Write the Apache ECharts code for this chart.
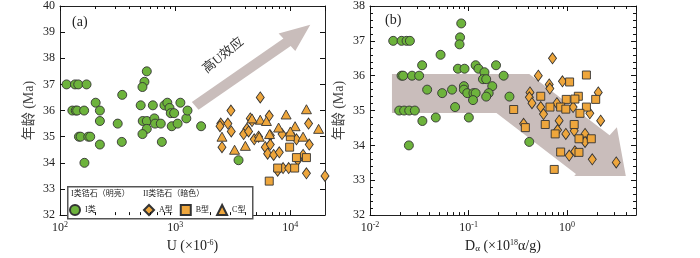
<!DOCTYPE html>
<html>
<head>
<meta charset="utf-8">
<script src="https://cdn.jsdelivr.net/npm/echarts@6/dist/echarts.min.js"></script>
<style>
html, body { margin: 0; padding: 0; background: #fff; }
#chart { width: 700px; height: 258px; }
</style>
</head>
<body>
<div id="chart"></div>
<script>
// (a) U 含量 - 年龄
var aI = [
    [114, 37], [135, 37], [144, 37], [170, 37],
    [128, 36], [137, 36], [141, 36], [162, 36],
    [204, 36.3], [222, 36], [222, 35.6],
    [146, 35], [151, 35], [176, 35], [183, 35],
    [222, 34.7], [163, 34],
    [347, 36.6], [317, 35.5], [344, 34.8],
    [567, 37.5], [541, 37.1], [520, 36.9],
    [502, 36.2], [640, 36.2], [523, 35.6], [567, 35.6], [660, 35.7], [669, 35.5], [750, 35.5],
    [567, 35.3], [520, 35.1], [766, 34.8],
    [807, 36.2], [855, 36.3], [893, 36.1], [916, 35.9], [980, 35.9], [934, 35.4], [1050, 35.5],
    [1110, 36.3], [1250, 35.7], [1280, 36], [1680, 35.4], [3550, 34.1]
];
var aA = [
    [5480, 36.5], [3050, 36.0], [6560, 35.8], [4490, 35.7], [2490, 35.5], [4650, 35.6],
    [14400, 35.5], [2450, 35.4], [3070, 35.2], [4200, 35.3], [3930, 35.1], [4340, 35.2],
    [4860, 34.9], [5300, 35.0], [6700, 35.05], [8470, 35.1], [11300, 34.9], [2550, 34.6],
    [6060, 34.6], [6700, 34.7], [6350, 34.35], [7160, 34.3], [8020, 34.4], [14600, 34.7],
    [12900, 34.3], [11600, 34.1], [7760, 33.7], [8650, 33.8], [9670, 33.8], [13800, 33.6],
    [20000, 33.5], [2870, 35.5]
];
var aB = [
    [9860, 34.6], [11300, 34.2], [13800, 34.2], [7760, 33.8], [10900, 33.8], [6560, 33.3],
    [10000, 35.0]
];
var aC = [
    [5480, 35.65], [9190, 35.85], [13800, 36.05], [17600, 35.3], [7910, 35.35], [11000, 35.4],
    [6600, 35.1], [10000, 35.2], [12900, 35.0], [2550, 35.0], [5370, 35.0], [4070, 34.65],
    [3280, 34.5], [4650, 35.7], [6200, 35.6]
];

// (b) Dα - 年龄
var bI = [
    [0.0172, 37], [0.0209, 37], [0.0235, 37], [0.0254, 37],
    [0.0843, 37.5], [0.082, 37.1], [0.081, 36.9],
    [0.052, 36.6], [0.0338, 36.3],
    [0.0209, 36], [0.0217, 36], [0.0267, 36], [0.0315, 36],
    [0.078, 36.2], [0.091, 36.2], [0.118, 36.3], [0.126, 36.2], [0.145, 36.1], [0.19, 36.3], [0.227, 36],
    [0.14, 35.9], [0.151, 35.9], [0.174, 35.7],
    [0.038, 35.6], [0.054, 35.5], [0.068, 35.6], [0.0897, 35.7], [0.0897, 35.6], [0.097, 35.5],
    [0.112, 35.5], [0.118, 35.5], [0.111, 35.3], [0.16, 35.5], [0.151, 35.4], [0.26, 35.4],
    [0.073, 35.1],
    [0.0198, 35], [0.0222, 35], [0.025, 35], [0.0285, 35],
    [0.034, 34.7], [0.0465, 34.8], [0.1007, 34.8],
    [0.0248, 34], [0.413, 34.1]
];
var bA = [
    [0.711, 36.5], [0.51, 36.0], [0.658, 35.75], [0.668, 35.63], [0.897, 35.84], [0.42, 35.52],
    [0.414, 35.38], [0.44, 35.21], [0.54, 35.1], [0.576, 34.9], [0.787, 35.21], [1.15, 35.1],
    [2.07, 35.52], [1.7, 34.92], [2.19, 34.71], [0.83, 34.71], [0.8, 34.44], [0.362, 34.62],
    [0.97, 34.33], [1.18, 34.42], [1.52, 34.33], [1.52, 34.1], [1.05, 33.71], [1.2, 33.83],
    [1.8, 33.6], [3.15, 33.51]
];
var bB = [
    [1.57, 36.02], [1.06, 35.82], [0.54, 35.41], [0.98, 35.32], [1.3, 35.41], [1.2, 35.33],
    [1.95, 35.32], [0.67, 35.1], [0.86, 35.1], [0.97, 35.04], [1.57, 35.1], [1.35, 34.92],
    [0.287, 35.03], [0.377, 34.51], [0.6, 34.6], [0.757, 34.33], [1.18, 34.6], [1.32, 34.19],
    [1.76, 34.19], [0.86, 33.81], [1.32, 33.8], [0.74, 33.31]
];

// 对数轴次刻度
var minorA = [200, 300, 400, 500, 600, 700, 800, 900, 2000, 3000, 4000, 5000, 6000, 7000, 8000, 9000];
var minorB = [0.02, 0.03, 0.04, 0.05, 0.06, 0.07, 0.08, 0.09, 0.2, 0.3, 0.4, 0.5, 0.6, 0.7, 0.8, 0.9, 2, 3, 4];

// 箭头（数据坐标）
var arrowA = [[1396, 36.33], [8710, 38.76], [7910, 38.95], [14900, 39.28], [11040, 38.28], [10070, 38.47], [1596, 36.03]];
var arrowATextPos = [2620, 38.1];
var arrowB = [[0.0167, 36.05], [0.413, 36.05], [2.70, 34.29], [3.20, 34.52], [3.94, 33.12], [1.18, 33.12], [1.23, 33.18], [0.192, 34.93], [0.0167, 34.93]];

var serif = "'Liberation Serif', 'Times New Roman', 'Noto Sans CJK SC', serif";
var green = '#6db33c';
var orange = '#eea63c';
var edge = '#333';
var arrowColor = '#c9bdbb';

var myChart = echarts.init(document.getElementById('chart'));

function powLabel(v) {
    var e = Math.round(Math.log10(v));
    return '10{sup|' + e + '}';
}
var supRich = {
    sup: { fontSize: 8, verticalAlign: 'top', padding: [0, 0, 6, 0], fontFamily: serif, color: '#222' }
};

// 对数轴上 2~9 倍的次刻度，上下两边都画
function minorTickSeries(xi, yi, vals, ymin, ymax) {
    return {
        type: 'custom',
        xAxisIndex: xi,
        yAxisIndex: yi,
        silent: true,
        clip: false,
        z: 6,
        data: vals.map(function (v) { return [v, ymin]; }),
        renderItem: function (params, api) {
            var b = api.coord([api.value(0), ymin]);
            var t = api.coord([api.value(0), ymax]);
            var x = Math.round(b[0]) + 0.5;
            return {
                type: 'group',
                children: [
                    { type: 'line', shape: { x1: x, y1: b[1], x2: x, y2: b[1] - 3 }, style: { stroke: '#111', lineWidth: 1 } },
                    { type: 'line', shape: { x1: x, y1: t[1], x2: x, y2: t[1] + 3 }, style: { stroke: '#111', lineWidth: 1 } }
                ]
            };
        }
    };
}

function arrowSeries(xi, yi, pts, textPos) {
    return {
        type: 'custom',
        xAxisIndex: xi,
        yAxisIndex: yi,
        silent: true,
        clip: false,
        z: 1,
        data: [pts[0]],
        renderItem: function (params, api) {
            var children = [{
                type: 'polygon',
                shape: { points: pts.map(function (p) { return api.coord(p); }) },
                style: { fill: arrowColor }
            }];
            if (textPos) {
                var c = api.coord(textPos);
                children.push({
                    type: 'text',
                    x: c[0], y: c[1],
                    rotation: 39 * Math.PI / 180,
                    style: { text: '高U效应', fill: '#333', fontSize: 13, fontFamily: serif, align: 'center', verticalAlign: 'middle' }
                });
            }
            return { type: 'group', children: children };
        }
    };
}

function scatter(name, data, xi, yi, symbol, size, color) {
    return {
        name: name,
        type: 'scatter',
        xAxisIndex: xi,
        yAxisIndex: yi,
        symbol: symbol,
        symbolSize: size,
        data: data,
        z: 3,
        itemStyle: { color: color, borderColor: edge, borderWidth: 0.9, opacity: 1 }
    };
}

var axisLine = { show: true, onZero: false, lineStyle: { color: '#222', width: 1 } };
var tickIn = { show: true, inside: true, length: 5, lineStyle: { color: '#111', width: 1 } };
var minorIn = { show: true, splitNumber: 5, length: 3, lineStyle: { color: '#111', width: 1 } };

var option = {
    animation: false,
    backgroundColor: '#fff',
    textStyle: { fontFamily: serif },
    grid: [
        { left: 60, top: 4, width: 265, height: 220 },
        { left: 370, top: 6, width: 266, height: 219 }
    ],
    xAxis: [
        {
            type: 'log', gridIndex: 0, logBase: 10, min: 100, max: 20000,
            axisLine: axisLine, axisTick: tickIn, splitLine: { show: false },
            axisLabel: { formatter: powLabel, rich: supRich, fontSize: 12, color: '#222', fontFamily: serif, margin: 6, showMaxLabel: false },
            name: 'U (×10{sup|-6})', nameLocation: 'middle', nameGap: 21,
            nameTextStyle: { fontSize: 14, color: '#222', fontFamily: serif, rich: supRich }
        },
        {
            type: 'log', gridIndex: 0, logBase: 10, min: 100, max: 20000, position: 'top',
            axisLine: axisLine, axisTick: tickIn, axisLabel: { show: false }, splitLine: { show: false }
        },
        {
            type: 'log', gridIndex: 1, logBase: 10, min: 0.01, max: 5,
            axisLine: axisLine, axisTick: tickIn, splitLine: { show: false },
            axisLabel: { formatter: powLabel, rich: supRich, fontSize: 12, color: '#222', fontFamily: serif, margin: 6, showMaxLabel: false },
            name: 'D{sub|α} (×10{sup|18}α/g)', nameLocation: 'middle', nameGap: 20,
            nameTextStyle: {
                fontSize: 14, color: '#222', fontFamily: serif,
                rich: {
                    sup: supRich.sup,
                    sub: { fontSize: 9, verticalAlign: 'bottom', padding: [5, 0, 0, 0], fontFamily: serif, color: '#222' }
                }
            }
        },
        {
            type: 'log', gridIndex: 1, logBase: 10, min: 0.01, max: 5, position: 'top',
            axisLine: axisLine, axisTick: tickIn, axisLabel: { show: false }, splitLine: { show: false }
        }
    ],
    yAxis: [
        {
            type: 'value', gridIndex: 0, min: 32, max: 40, interval: 1,
            axisLine: axisLine, axisTick: tickIn, splitLine: { show: false },
            axisLabel: { fontSize: 12, color: '#222', fontFamily: serif, margin: 5 },
            name: '年龄 (Ma)', nameLocation: 'middle', nameGap: 24, nameRotate: 90,
            nameTextStyle: { fontSize: 14, color: '#444', fontFamily: serif }
        },
        {
            type: 'value', gridIndex: 0, min: 32, max: 40, interval: 1, position: 'right',
            axisLine: axisLine, axisTick: tickIn, axisLabel: { show: false }, splitLine: { show: false }
        },
        {
            type: 'value', gridIndex: 1, min: 32, max: 38, interval: 1,
            axisLine: axisLine, axisTick: tickIn, splitLine: { show: false },
            minorTick: minorIn,
            axisLabel: { fontSize: 12, color: '#222', fontFamily: serif, margin: 5 },
            name: '年龄 (Ma)', nameLocation: 'middle', nameGap: 24, nameRotate: 90,
            nameTextStyle: { fontSize: 14, color: '#444', fontFamily: serif }
        },
        {
            type: 'value', gridIndex: 1, min: 32, max: 38, interval: 1, position: 'right',
            axisLine: axisLine, axisTick: tickIn, axisLabel: { show: false }, splitLine: { show: false },
            minorTick: minorIn
        }
    ],
    legend: [
        {
            data: ['I类'], left: 69, top: 204, itemWidth: 10, itemHeight: 10, itemGap: 8,
            selectedMode: false, padding: 0, z: 5,
            textStyle: { fontSize: 8, color: '#222', fontFamily: serif }
        },
        {
            data: ['A型', 'B型', 'C型'], left: 143, top: 204, itemWidth: 10, itemHeight: 10, itemGap: 7,
            selectedMode: false, padding: 0, z: 5,
            textStyle: { fontSize: 8, color: '#222', fontFamily: serif }
        }
    ],
    graphic: [
        { type: 'rect', left: 67, top: 186, z: 4, shape: { width: 185, height: 32 }, style: { fill: '#fff', stroke: '#555', lineWidth: 1.5 } },
        { type: 'text', left: 71, top: 190, z: 5, style: { text: 'I类锆石（明亮）', fontSize: 8, fill: '#222', fontFamily: serif } },
        { type: 'text', left: 143, top: 190, z: 5, style: { text: 'II类锆石（暗色）', fontSize: 8, fill: '#222', fontFamily: serif } },
        { type: 'text', left: 72, top: 15, z: 5, style: { text: '(a)', fontSize: 14, fill: '#222', fontFamily: serif } },
        { type: 'text', left: 385, top: 13, z: 5, style: { text: '(b)', fontSize: 14, fill: '#222', fontFamily: serif } }
    ],
    series: [
        arrowSeries(0, 0, arrowA, arrowATextPos),
        arrowSeries(2, 2, arrowB, null),
        minorTickSeries(0, 0, minorA, 32, 40),
        minorTickSeries(2, 2, minorB, 32, 38),
        scatter('I类', aI, 0, 0, 'circle', 9, green),
        scatter('A型', aA, 0, 0, 'diamond', [8, 11], orange),
        scatter('B型', aB, 0, 0, 'rect', 8, orange),
        scatter('C型', aC, 0, 0, 'triangle', [10, 9], orange),
        scatter('I类', bI, 2, 2, 'circle', 9, green),
        scatter('A型', bA, 2, 2, 'diamond', [8, 11], orange),
        scatter('B型', bB, 2, 2, 'rect', 8, orange)
    ]
};

myChart.setOption(option);
</script>
</body>
</html>
